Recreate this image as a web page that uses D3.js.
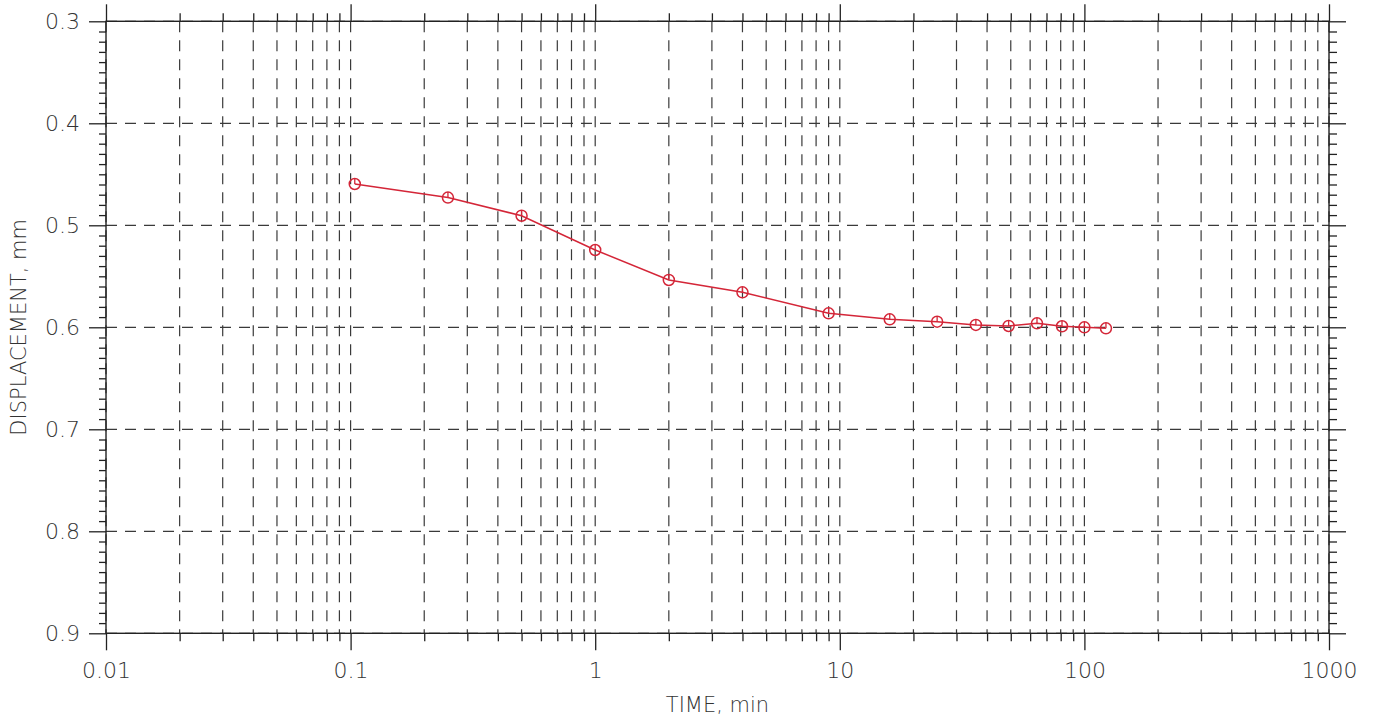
<!DOCTYPE html>
<html>
<head>
<meta charset="utf-8">
<script src="https://cdn.jsdelivr.net/npm/d3@7"></script>
<style>
  html, body { margin: 0; padding: 0; background: #fff; }
  svg { display: block; }
  .tick text { font-family: "DejaVu Sans", sans-serif; font-weight: 200; font-size: 22px; fill: #333; }
  .title { font-family: "DejaVu Sans", sans-serif; font-weight: 200; font-size: 21px; fill: #333; }
</style>
</head>
<body>
<svg id="chart" width="1375" height="721"></svg>
<script>
// ---- data ----
const timeMin = [0.104, 0.25, 0.5, 1, 2, 4, 9, 16, 25, 36, 49, 64, 81, 100, 122.5];
const displacement = [0.4595, 0.4728, 0.4906, 0.5242, 0.5536, 0.5657, 0.5863, 0.5922, 0.5945, 0.5977, 0.5987, 0.5961, 0.5990, 0.6000, 0.6010];
const xMajorTicks = [0.01, 0.1, 1, 10, 100, 1000];
const xTickLabels = ["0.01", "0.1", "1", "10", "100", "1000"];
const yMajorTicks = [0.3, 0.4, 0.5, 0.6, 0.7, 0.8, 0.9];
const yTickLabels = ["0.3", "0.4", "0.5", "0.6", "0.7", "0.8", "0.9"];
const xTitle = "TIME, min";
const yTitle = "DISPLACEMENT, mm";

// ---- layout ----
const L = 106, R = 1329, T = 21.3, B = 633.3;
const svg = d3.select("#chart");
const x = d3.scaleLog().domain([0.01, 1000]).range([L, R]);
const y = d3.scaleLinear().domain([0.3, 0.9]).range([T, B]);

// minor tick values derived from decades
const xMinor = [];
for (let d = 0; d < xMajorTicks.length - 1; d++) {
  for (let k = 2; k <= 9; k++) xMinor.push(+(xMajorTicks[d] * k).toPrecision(6));
}
const yMinor = d3.range(0.3, 0.9001, 0.01).map(v => +v.toFixed(2)).filter(v => !yMajorTicks.some(m => Math.abs(m - v) < 1e-9));

const gridColor = "#3a3a3a";
const dash = "11,8";

// ---- grid ----
const grid = svg.append("g");
grid.selectAll("line.vx").data(xMajorTicks.concat(xMinor)).join("line")
  .attr("x1", d => x(d)).attr("x2", d => x(d)).attr("y1", T).attr("y2", B)
  .attr("stroke", gridColor).attr("stroke-width", 1.2).attr("stroke-dasharray", dash);
grid.selectAll("line.hy").data(yMajorTicks).join("line")
  .attr("x1", L).attr("x2", R).attr("y1", d => y(d)).attr("y2", d => y(d))
  .attr("stroke", gridColor).attr("stroke-width", 1.2).attr("stroke-dasharray", dash);

// ---- axes ----
function styleAxis(g) {
  g.select(".domain").remove();
  g.selectAll(".tick line").attr("stroke", "#222").attr("stroke-width", 1.3);
}
const fmtX = d => xTickLabels[xMajorTicks.indexOf(d)];
const fmtY = d => yTickLabels[yMajorTicks.findIndex(m => Math.abs(m - d) < 1e-9)];

svg.append("g").attr("transform", `translate(0,${B})`)
  .call(d3.axisBottom(x).tickValues(xMajorTicks).tickSize(17).tickPadding(12).tickFormat(fmtX)).call(styleAxis);
svg.append("g").attr("transform", `translate(0,${B})`)
  .call(d3.axisBottom(x).tickValues(xMinor).tickSize(8).tickFormat("")).call(styleAxis);
svg.append("g").attr("transform", `translate(0,${T})`)
  .call(d3.axisTop(x).tickValues(xMajorTicks).tickSize(17).tickFormat("")).call(styleAxis);
svg.append("g").attr("transform", `translate(0,${T})`)
  .call(d3.axisTop(x).tickValues(xMinor).tickSize(8).tickFormat("")).call(styleAxis);

svg.append("g").attr("transform", `translate(${L},0)`)
  .call(d3.axisLeft(y).tickValues(yMajorTicks).tickSize(17).tickPadding(9).tickFormat(fmtY)).call(styleAxis);
svg.append("g").attr("transform", `translate(${L},0)`)
  .call(d3.axisLeft(y).tickValues(yMinor).tickSize(7).tickFormat("")).call(styleAxis);
svg.append("g").attr("transform", `translate(${R},0)`)
  .call(d3.axisRight(y).tickValues(yMajorTicks).tickSize(17).tickFormat("")).call(styleAxis);
svg.append("g").attr("transform", `translate(${R},0)`)
  .call(d3.axisRight(y).tickValues(yMinor).tickSize(8).tickFormat("")).call(styleAxis);

// frame
svg.append("rect").attr("x", L).attr("y", T).attr("width", R - L).attr("height", B - T)
  .attr("fill", "none").attr("stroke", "#222").attr("stroke-width", 1.4);

// ---- titles ----
svg.append("text").attr("class", "title")
  .attr("x", (L + R) / 2).attr("y", 712).attr("text-anchor", "middle").text(xTitle);
svg.append("text").attr("class", "title")
  .attr("transform", `translate(26,${(T + B) / 2}) rotate(-90)`)
  .attr("text-anchor", "middle").text(yTitle);

// ---- data ----
const red = "#d42638";
const pts = timeMin.map((t, i) => ({ t, v: displacement[i] }));
svg.append("path").datum(pts)
  .attr("d", d3.line().x(d => x(d.t)).y(d => y(d.v)))
  .attr("fill", "none").attr("stroke", red).attr("stroke-width", 1.5);
const r = 5.5;
const mk = svg.append("g").selectAll("g").data(pts).join("g")
  .attr("transform", d => `translate(${x(d.t)},${y(d.v)})`);
mk.append("circle").attr("r", r).attr("fill", "none").attr("stroke", red).attr("stroke-width", 1.5);
mk.append("line").attr("x1", 0).attr("x2", 0).attr("y1", -r).attr("y2", 0)
  .attr("stroke", red).attr("stroke-width", 1.3);
</script>
</body>
</html>
